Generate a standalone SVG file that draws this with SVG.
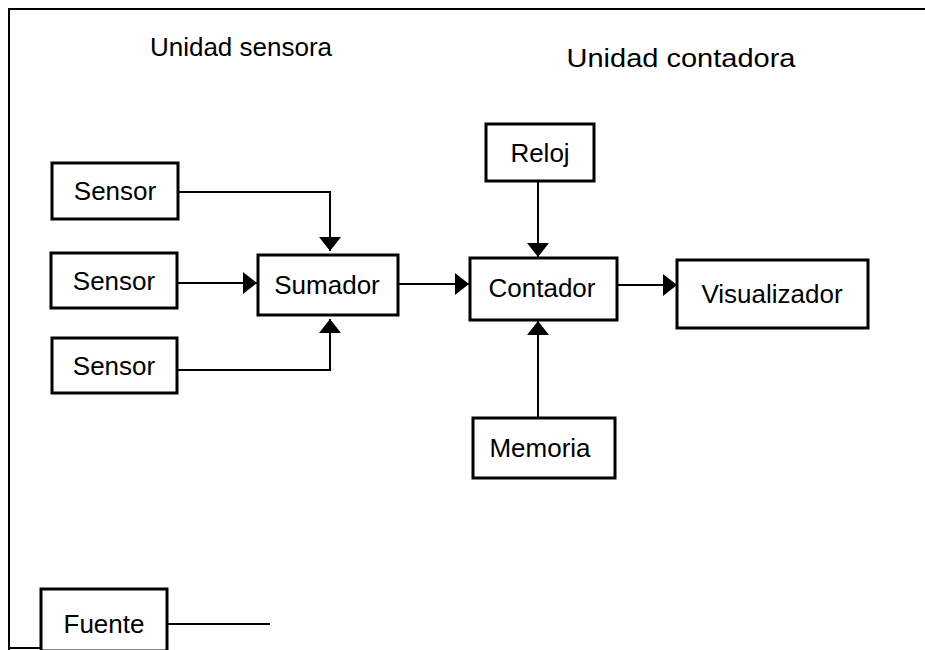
<svg xmlns="http://www.w3.org/2000/svg" width="925" height="650" viewBox="0 0 925 650">
<defs>
<marker id="ah" viewBox="0 0 14 22" refX="14" refY="11" markerWidth="14" markerHeight="22" markerUnits="userSpaceOnUse" orient="auto">
<path d="M0,0 L14,11 L0,22 Z" fill="#000"/>
</marker>
<style>
.box{fill:#fff;stroke:#000;stroke-width:3}
.t{font-family:"Liberation Sans",Arial,sans-serif;font-size:26px;fill:#000;text-anchor:middle}
.c{fill:none;stroke:#000;stroke-width:2}
.frame{fill:none;stroke:#000;stroke-width:2}
</style>
</defs>
<rect width="925" height="650" fill="#fff"/>
<path class="frame" d="M9,650 L9,9 L925,9"/>
<line class="frame" x1="9" y1="648" x2="42" y2="648"/>
<text class="t" x="241" y="56">Unidad sensora</text>
<text class="t" x="681" y="67" textLength="229" lengthAdjust="spacingAndGlyphs">Unidad contadora</text>
<g id="connectors">
<path class="c" d="M178,192 H330 V251" marker-end="url(#ah)"/>
<path class="c" d="M177,283 H257" marker-end="url(#ah)"/>
<path class="c" d="M177,370 H330 V319" marker-end="url(#ah)"/>
<path class="c" d="M398,284 H469" marker-end="url(#ah)"/>
<path class="c" d="M538,181 V257" marker-end="url(#ah)"/>
<path class="c" d="M538,418 V321" marker-end="url(#ah)"/>
<path class="c" d="M617,285 H677" marker-end="url(#ah)"/>
<path class="c" d="M167,624 H270"/>
</g>
<g id="sensor1"><rect class="box" x="52" y="163" width="126" height="56"/><text class="t" x="115" y="200">Sensor</text></g>
<g id="sensor2"><rect class="box" x="51" y="253" width="126" height="55"/><text class="t" x="114" y="290">Sensor</text></g>
<g id="sensor3"><rect class="box" x="52" y="338" width="125" height="55"/><text class="t" x="114" y="375">Sensor</text></g>
<g id="sumador"><rect class="box" x="258" y="255" width="140" height="60"/><text class="t" x="327" y="294">Sumador</text></g>
<g id="reloj"><rect class="box" x="486" y="124" width="108" height="57"/><text class="t" x="540" y="162">Reloj</text></g>
<g id="contador"><rect class="box" x="470" y="258" width="147" height="62"/><text class="t" x="542" y="297">Contador</text></g>
<g id="memoria"><rect class="box" x="473" y="418" width="142" height="60"/><text class="t" x="540" y="457">Memoria</text></g>
<g id="visualizador"><rect class="box" x="677" y="260" width="191" height="68"/><text class="t" x="772" y="303">Visualizador</text></g>
<g id="fuente"><rect class="box" x="41" y="589" width="126" height="62"/><text class="t" x="104" y="633">Fuente</text></g>
</svg>
